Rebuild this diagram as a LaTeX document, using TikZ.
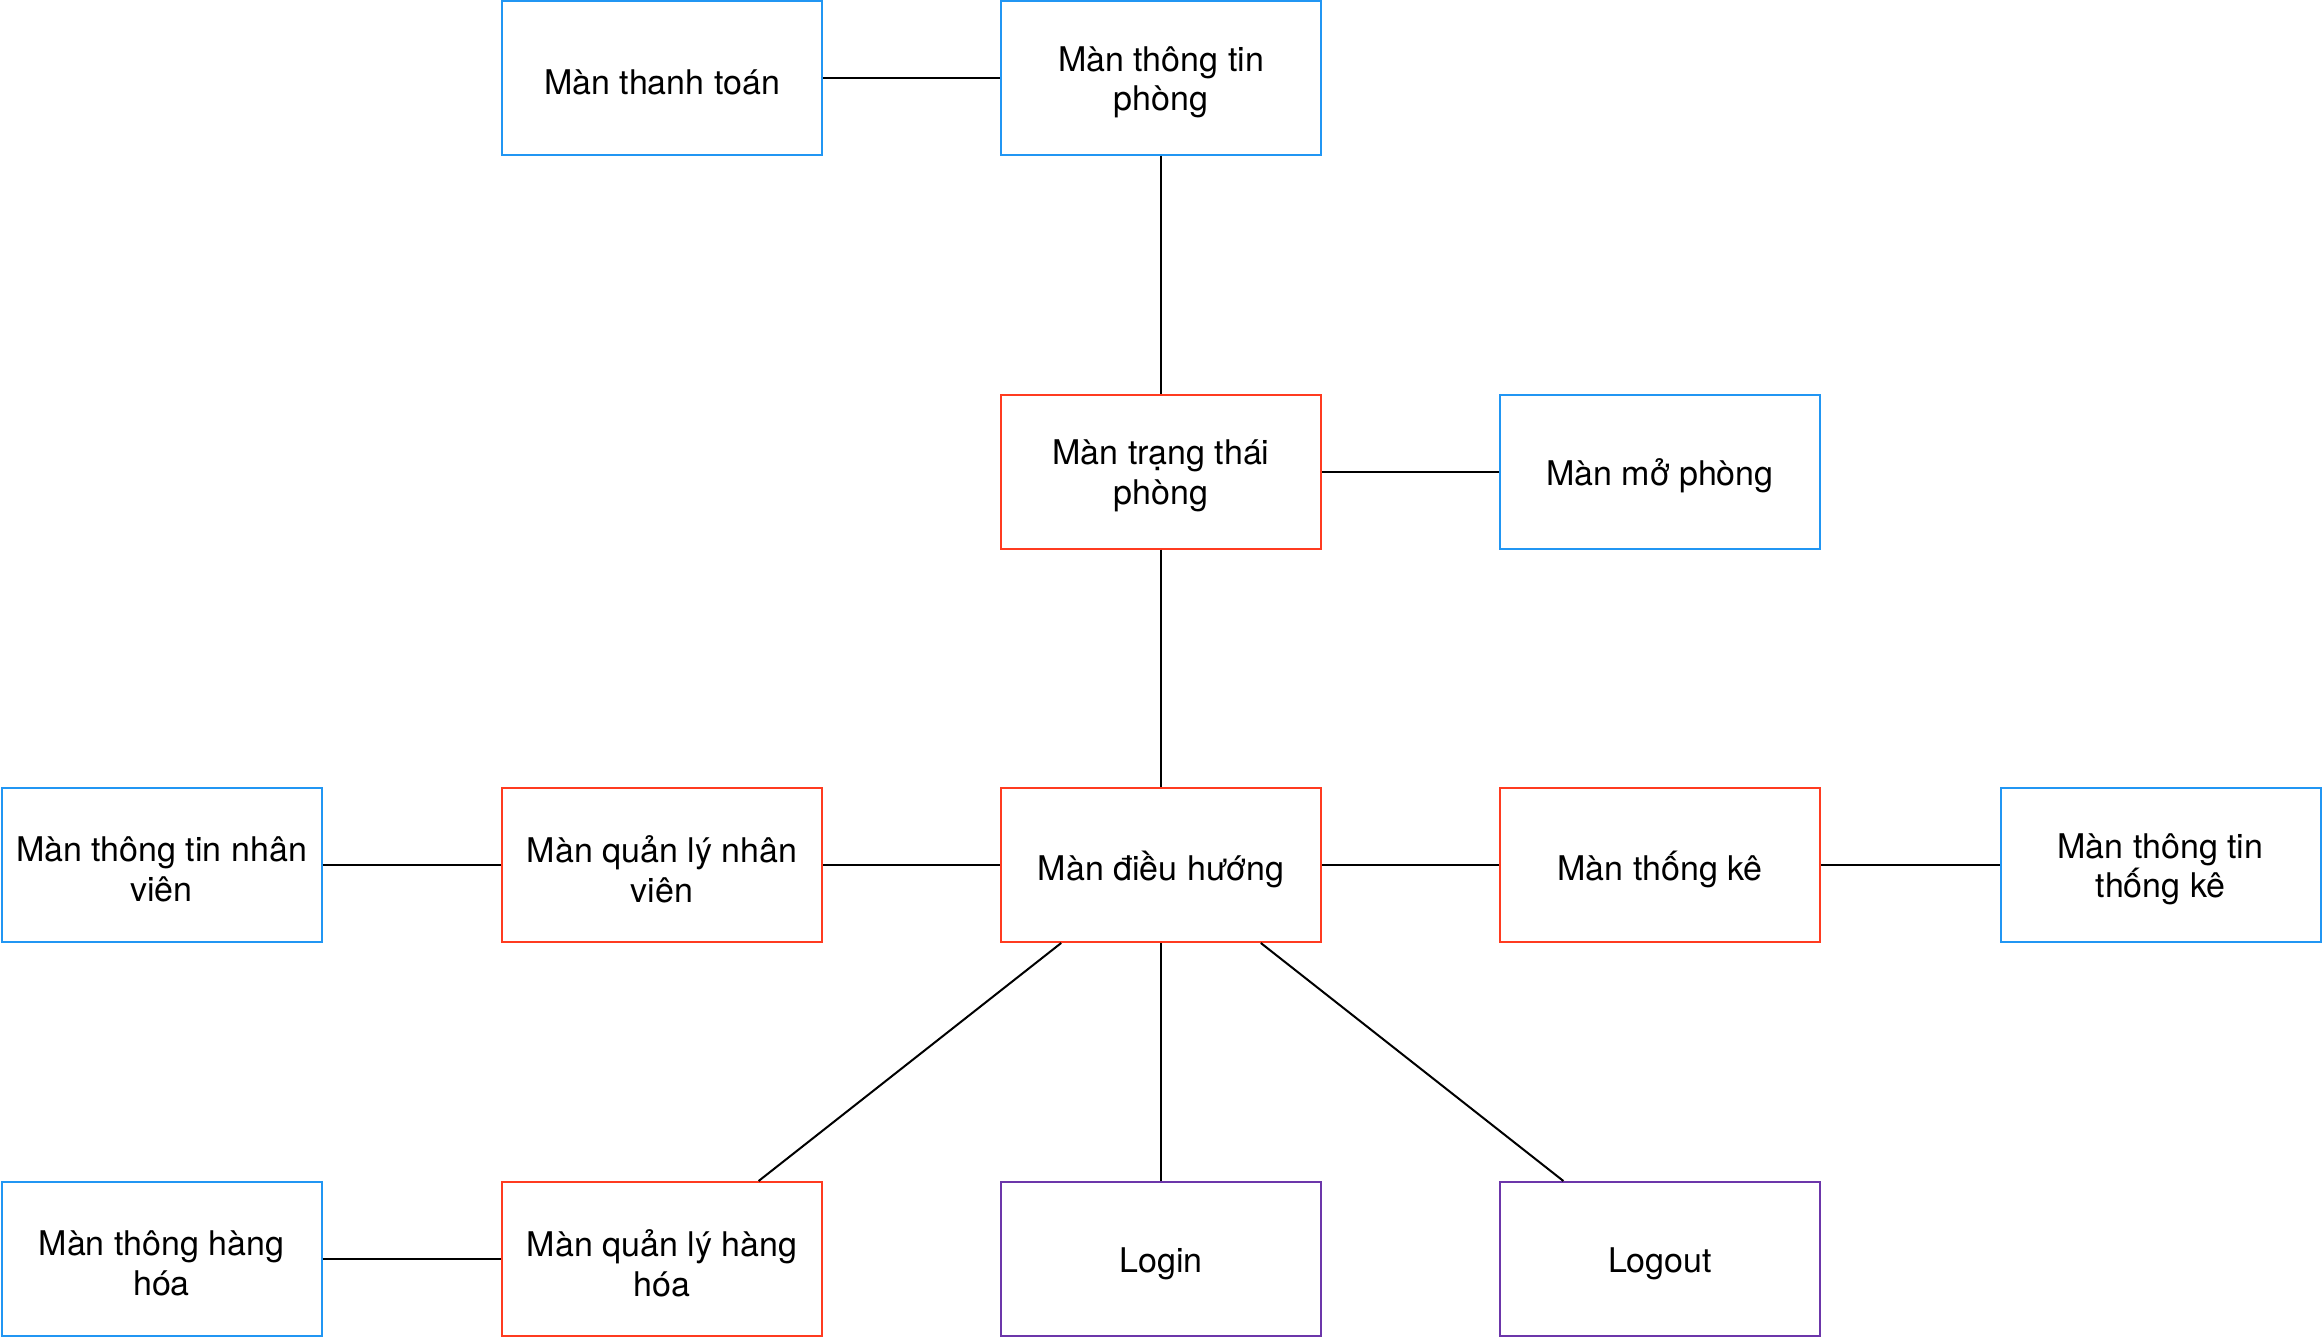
\documentclass[tikz,border=0pt]{standalone}
\usepackage{fontspec}
\setmainfont{TeX Gyre Heros}
\usetikzlibrary{calc}
\definecolor{cblue}{RGB}{33,150,243}
\definecolor{cred}{RGB}{255,59,32}
\definecolor{cpurple}{RGB}{108,54,170}
\tikzset{
  box/.style={draw, line width=1pt, minimum width=160pt, minimum height=77pt, inner sep=0pt,
    fill=white},
  txt/.style={align=center, inner sep=0pt, yshift=-2.2pt, font=\fontsize{17}{19.8}\selectfont},
  bluebox/.style={box, draw=cblue},
  redbox/.style={box, draw=cred},
  purplebox/.style={box, draw=cpurple},
  link/.style={draw=black, line width=1pt}
}
\begin{document}
\begin{tikzpicture}[x=0.5pt,y=-0.5pt]
\useasboundingbox (0,0) rectangle (2322,1337);
\node[bluebox, label={[txt]center:Màn thanh toán}] (thanhtoan) at (662,78) {};
\node[bluebox, label={[txt]center:Màn thông tin\\phòng}] (ttphong) at (1161,78) {};
\node[redbox, label={[txt]center:Màn trạng thái\\phòng}] (trangthai) at (1161,471.5) {};
\node[bluebox, label={[txt]center:Màn mở phòng}] (mophong) at (1660,471.5) {};
\node[bluebox, label={[txt]center:Màn thông tin nhân\\viên}] (ttnv) at (161.5,865) {};
\node[redbox, label={[txt]center:Màn quản lý nhân\\viên}] (qlnv) at (662,865) {};
\node[redbox, label={[txt]center:Màn điều hướng}] (dieuhuong) at (1161,865) {};
\node[redbox, label={[txt]center:Màn thống kê}] (thongke) at (1660,865) {};
\node[bluebox, label={[txt]center:Màn thông tin\\thống kê}] (ttthongke) at (2160.5,865) {};
\node[bluebox, label={[txt]center:Màn thông hàng\\hóa}] (tthanghoa) at (161.5,1259) {};
\node[redbox, label={[txt]center:Màn quản lý hàng\\hóa}] (qlhanghoa) at (662,1259) {};
\node[purplebox, label={[txt]center:Login}] (login) at (1161,1259) {};
\node[purplebox, label={[txt]center:Logout}] (logout) at (1660,1259) {};

\draw[link] (thanhtoan) -- (ttphong);
\draw[link] (ttphong) -- (trangthai);
\draw[link] (trangthai) -- (mophong);
\draw[link] (trangthai) -- (dieuhuong);
\draw[link] (ttnv) -- (qlnv);
\draw[link] (qlnv) -- (dieuhuong);
\draw[link] (dieuhuong) -- (thongke);
\draw[link] (thongke) -- (ttthongke);
\draw[link] (tthanghoa) -- (qlhanghoa);
\draw[link] (dieuhuong) -- (login);
\draw[link] ($(dieuhuong.south west)!0.19!(dieuhuong.south east)$) -- ($(qlhanghoa.north west)!0.8!(qlhanghoa.north east)$);
\draw[link] ($(dieuhuong.south west)!0.81!(dieuhuong.south east)$) -- ($(logout.north west)!0.2!(logout.north east)$);
\end{tikzpicture}
\end{document}
